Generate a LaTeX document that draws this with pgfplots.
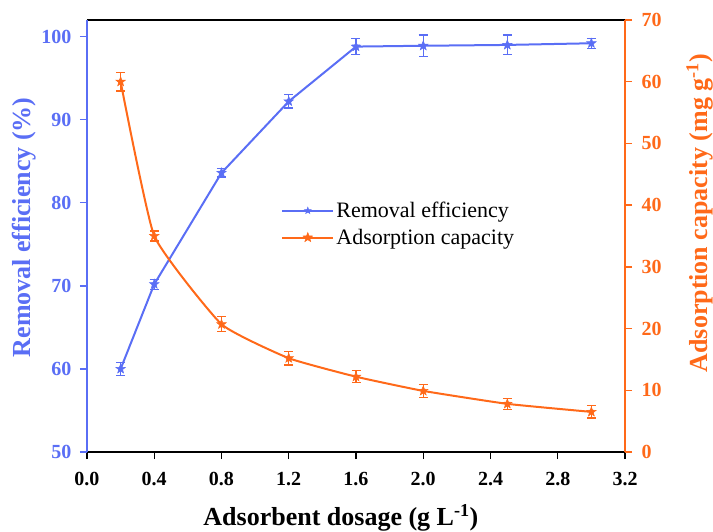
\documentclass[border=0pt]{standalone}
\usepackage{fontspec}
\setmainfont{Liberation Serif}
\usepackage{pgfplots}
\pgfplotsset{compat=1.18}
\definecolor{cblue}{RGB}{90,110,245}
\definecolor{corange}{RGB}{255,105,25}
\newcommand{\tickfont}{\bfseries\fontsize{20}{20}\selectfont}
\newcommand{\labfont}{\bfseries\fontsize{26}{26}\selectfont}
\pgfdeclareplotmark{fstar}{%
  \pgfpathmoveto{\pgfpointpolar{90}{\pgfplotmarksize}}%
  \pgfpathlineto{\pgfpointpolar{126}{0.42\pgfplotmarksize}}%
  \pgfpathlineto{\pgfpointpolar{162}{\pgfplotmarksize}}%
  \pgfpathlineto{\pgfpointpolar{198}{0.42\pgfplotmarksize}}%
  \pgfpathlineto{\pgfpointpolar{234}{\pgfplotmarksize}}%
  \pgfpathlineto{\pgfpointpolar{270}{0.42\pgfplotmarksize}}%
  \pgfpathlineto{\pgfpointpolar{306}{\pgfplotmarksize}}%
  \pgfpathlineto{\pgfpointpolar{342}{0.42\pgfplotmarksize}}%
  \pgfpathlineto{\pgfpointpolar{18}{\pgfplotmarksize}}%
  \pgfpathlineto{\pgfpointpolar{54}{0.42\pgfplotmarksize}}%
  \pgfpathclose
  \pgfusepathqfillstroke
}
\begin{document}
\begin{tikzpicture}
\useasboundingbox (-87pt,-79pt) rectangle (626pt,452pt);
\begin{axis}[
  at={(0,0)}, anchor=south west,
  width=538pt, height=432pt, scale only axis,
  xmin=0, xmax=3.2, ymin=50, ymax=102,
  separate axis lines,
  x axis line style={black, line width=1.4pt},
  y axis line style={cblue, line width=1.4pt},
  xtick={0,0.4,...,3.2}, ytick={50,60,...,100},
  xtick pos=bottom, ytick pos=left,
  tick align=outside, major tick length=7pt,
  x tick style={black, line width=1.4pt},
  y tick style={cblue, line width=1.4pt},
  minor tick num=0,
  /pgf/number format/assume math mode=true,
  xticklabel style={font=\tickfont, yshift=-10pt, /pgf/number format/.cd, fixed, fixed zerofill, precision=1},
  yticklabel style={font=\tickfont, text=cblue, xshift=-5pt},
  xlabel={Adsorbent dosage (g L\textsuperscript{-1})},
  xlabel style={font=\labfont, at={(axis description cs:0.472,-0.153)}, anchor=center},
  ylabel={Removal efficiency (\%)},
  ylabel style={font=\labfont, text=cblue, at={(axis description cs:-0.117,0.52)}, anchor=center},
]
\addplot[cblue, line width=2pt, mark=fstar, mark size=5pt,
  mark options={solid, line width=0.5pt, fill=cblue},
  error bars/.cd, y dir=both, y explicit,
  error bar style={line width=1.2pt, cblue},
  error mark options={rotate=90, mark size=4.5pt, line width=1.2pt, cblue}]
coordinates {
(0.2,60.0) +- (0,0.8)
(0.4,70.2) +- (0,0.6)
(0.8,83.6) +- (0,0.5)
(1.2,92.2) +- (0,0.8)
(1.6,98.8) +- (0,1.0)
(2.0,98.9) +- (0,1.3)
(2.5,99.0) +- (0,1.2)
(3.0,99.2) +- (0,0.6)
};
\end{axis}
\begin{axis}[
  at={(0,0)}, anchor=south west,
  width=538pt, height=432pt, scale only axis,
  xmin=0, xmax=3.2, ymin=0, ymax=70,
  axis x line=none, axis y line*=right,
  y axis line style={corange, line width=1.4pt},
  ytick={0,10,...,70},
  tick align=outside, major tick length=7pt,
  y tick style={corange, line width=1.4pt},
  /pgf/number format/assume math mode=true,
  yticklabel style={font=\tickfont, text=corange, xshift=6pt},
  ylabel={Adsorption capacity (mg g\textsuperscript{-1})},
  ylabel style={font=\labfont, text=corange, at={(axis description cs:1.139,0.553)}, anchor=center},
  legend style={draw=none, fill=none, at={(0.355,0.588)}, anchor=north west,
    font=\fontsize{22}{22}\selectfont, row sep=6pt},
  legend cell align=left,
  legend image code/.code={\draw[mark repeat=2, mark phase=2, #1] plot coordinates {(0cm,0cm) (0.9cm,0cm) (1.8cm,0cm)};},
]
\addlegendimage{cblue, line width=2pt, mark=fstar, mark size=3.5pt, mark options={solid, line width=0.5pt, fill=cblue}}
\addlegendentry{Removal efficiency}
\addplot[corange, line width=2pt, smooth, tension=0.25, mark=fstar, mark size=5pt,
  mark options={solid, line width=0.5pt, fill=corange},
  error bars/.cd, y dir=both, y explicit,
  error bar style={line width=1.2pt, corange},
  error mark options={rotate=90, mark size=4.5pt, line width=1.2pt, corange}]
coordinates {
(0.2,60.0) +- (0,1.5)
(0.4,35.0) +- (0,0.8)
(0.8,20.7) +- (0,1.2)
(1.2,15.2) +- (0,1.1)
(1.6,12.2) +- (0,1.0)
(2.0,9.9) +- (0,1.1)
(2.5,7.8) +- (0,0.9)
(3.0,6.5) +- (0,1.0)
};
\addlegendentry{Adsorption capacity}
\end{axis}
\end{tikzpicture}
\end{document}
